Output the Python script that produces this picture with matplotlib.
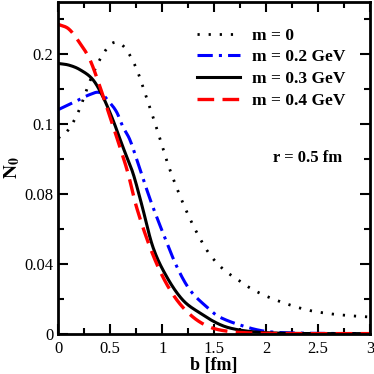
import numpy as np
import matplotlib
matplotlib.use('Agg')
import matplotlib.pyplot as plt
from matplotlib.ticker import MultipleLocator

plt.rcParams['font.family'] = ['Liberation Serif', 'DejaVu Serif']
plt.rcParams['mathtext.fontset'] = 'stix'

# values (y in linear axis units)
b_m0 = [0.0, 0.1, 0.2, 0.3, 0.4, 0.5, 0.57, 0.65, 0.75, 0.85, 0.95, 1.05, 1.15, 1.25, 1.35,
        1.45, 1.55, 1.65, 1.75, 1.85, 2.0, 2.2, 2.4, 2.6, 2.8, 3.0]
n_m0 = [0.112, 0.117, 0.128, 0.144, 0.157, 0.1655, 0.1667, 0.163, 0.152, 0.135, 0.117, 0.098,
        0.082, 0.068, 0.056, 0.046, 0.039, 0.034, 0.030, 0.026, 0.0215, 0.017, 0.0135, 0.0115,
        0.0103, 0.0095]

b_m02 = [0.0, 0.15, 0.303, 0.4, 0.496, 0.564, 0.621, 0.689, 0.766, 0.853, 0.91, 1.007, 1.142,
         1.267, 1.43, 1.552, 1.816, 2.01, 2.25, 2.6, 3.0]
n_m02 = [0.1283, 0.1325, 0.1369, 0.138, 0.1323, 0.1266, 0.1185, 0.111, 0.0977, 0.0822, 0.0726,
         0.0577, 0.0382, 0.025, 0.0152, 0.0095, 0.0037, 0.0012, 0.0004, 0.0001, 0.0]

b_m03 = [0.0, 0.1, 0.207, 0.332, 0.429, 0.525, 0.621, 0.718, 0.8, 0.91, 1.045, 1.199,
         1.363, 1.527, 1.652, 1.85, 2.1, 2.5, 3.0]
n_m03 = [0.1547, 0.1538, 0.1512, 0.1455, 0.1357, 0.1225, 0.107, 0.092, 0.0745, 0.0497,
         0.0324, 0.0192, 0.0118, 0.006, 0.0032, 0.0012, 0.0003, 0.0, 0.0]

b_m04 = [0.0, 0.1, 0.2, 0.303, 0.40, 0.496, 0.592, 0.67, 0.75, 0.881, 1.007, 1.142,
         1.296, 1.46, 1.65, 1.9, 2.3, 3.0]
n_m04 = [0.1771, 0.1745, 0.167, 0.157, 0.1415, 0.1243, 0.107, 0.092, 0.073, 0.0497,
         0.0324, 0.0192, 0.0095, 0.0037, 0.0012, 0.0003, 0.0, 0.0]

labels = ['m = 0', 'm = 0.2 GeV', 'm = 0.3 GeV', 'm = 0.4 GeV']
ytick_pos = [0, 0.04, 0.08, 0.12, 0.16]
ytick_lab = ['0', '0.04', '0.08', '0.1', '0.2']
xtick_pos = [0, 0.5, 1, 1.5, 2, 2.5, 3]
xtick_lab = ['0', '0.5', '1', '1.5', '2', '2.5', '3']


def smooth(xs, ys):
    # cubic Hermite through the read points
    xs = np.array(xs)
    ys = np.array(ys)
    xx = np.linspace(xs[0], xs[-1], 500)
    n = len(xs)
    m = np.zeros(n)
    m[0] = (ys[1] - ys[0]) / (xs[1] - xs[0])
    m[-1] = (ys[-1] - ys[-2]) / (xs[-1] - xs[-2])
    for i in range(1, n - 1):
        m[i] = (ys[i + 1] - ys[i - 1]) / (xs[i + 1] - xs[i - 1])
    out = []
    for x in xx:
        i = min(max(np.searchsorted(xs, x) - 1, 0), n - 2)
        h = xs[i + 1] - xs[i]
        t = (x - xs[i]) / h
        out.append((2 * t**3 - 3 * t**2 + 1) * ys[i] + (t**3 - 2 * t**2 + t) * h * m[i]
                   + (-2 * t**3 + 3 * t**2) * ys[i + 1] + (t**3 - t**2) * h * m[i + 1])
    return xx, np.maximum(np.array(out), 0)


fig = plt.figure(figsize=(3.74, 3.74), dpi=100)
ax = fig.add_axes([0.156, 0.108, 0.833, 0.887])

x, y = smooth(b_m0, n_m0)
ax.plot(x, y, color='k', lw=2, linestyle=(0, (0.8, 3.2)), label=labels[0])
x, y = smooth(b_m02, n_m02)
ax.plot(x, y, color='#0000ff', lw=2.2, linestyle=(0, (5, 2, 1, 2)), label=labels[1])
x, y = smooth(b_m03, n_m03)
ax.plot(x, y, color='k', lw=2.2, label=labels[2])
x, y = smooth(b_m04, n_m04)
ax.plot(x, y, color='#ff0000', lw=2.4, linestyle=(0, (5, 2.5)), label=labels[3])

ax.set_xlim(0, 3)
ax.set_ylim(0, 0.19)
ax.set_xticks(xtick_pos)
ax.set_xticklabels(xtick_lab)
ax.set_yticks(ytick_pos)
ax.set_yticklabels(ytick_lab)
ax.xaxis.set_minor_locator(MultipleLocator(0.25))
ax.yaxis.set_minor_locator(MultipleLocator(0.02))
ax.tick_params(which='both', direction='in', top=True, right=True, width=1.5, labelsize=12)
ax.tick_params(which='major', length=7)
ax.tick_params(which='minor', length=4)
ax.tick_params(axis='x', pad=5)
for s in ax.spines.values():
    s.set_linewidth(2)

ax.set_xlabel('b [fm]', fontsize=13, fontweight='bold', labelpad=0)
ax.set_ylabel(r'$\mathbf{N_0}$', fontsize=14, labelpad=2)

leg = ax.legend(loc='upper right', bbox_to_anchor=(0.972, 0.97), frameon=False,
                prop={'weight': 'bold', 'size': 12.5}, handlelength=2.5,
                labelspacing=0.33, handletextpad=0.7)
ax.text(0.80, 0.53, 'r = 0.5 fm', transform=ax.transAxes, ha='center', va='center',
        fontsize=12, fontweight='bold')

fig.savefig('out.png', dpi=100)
